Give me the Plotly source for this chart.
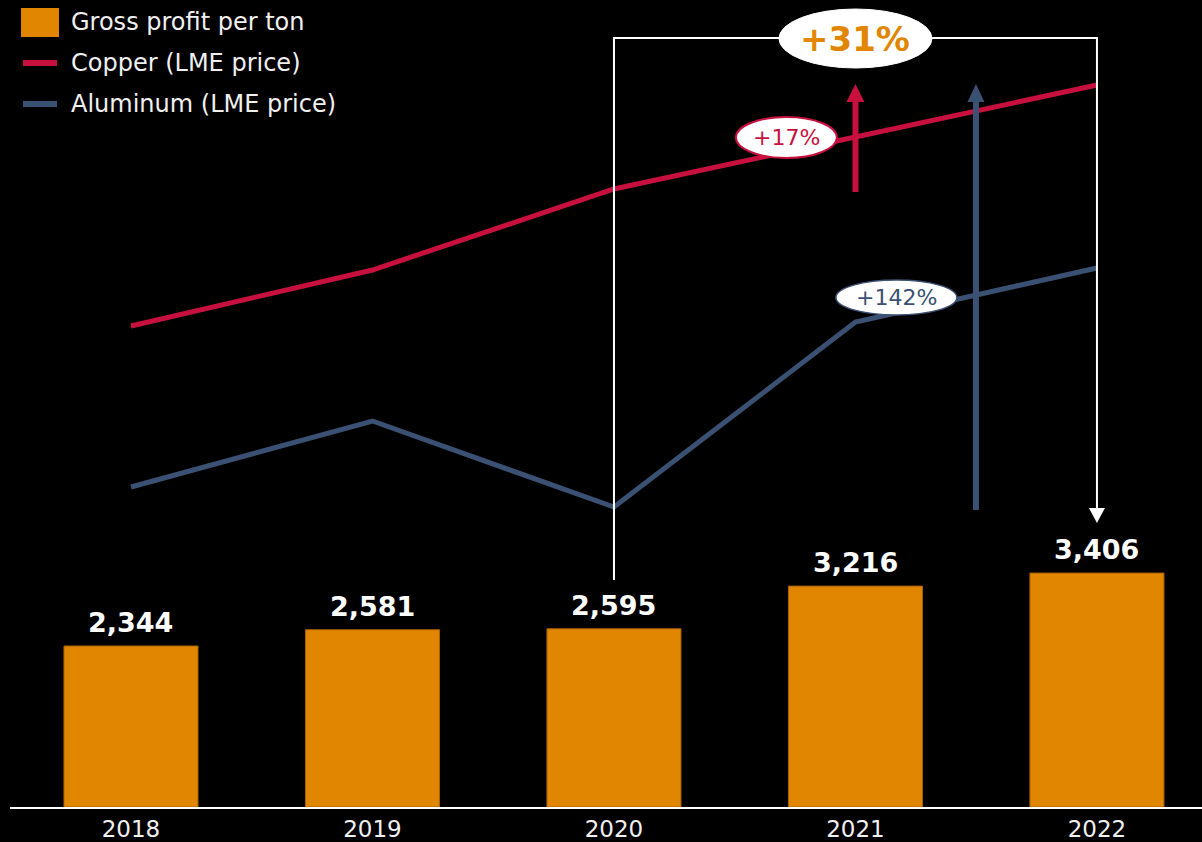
import plotly.graph_objects as go

# ---------------- data ----------------
years = ["2018", "2019", "2020", "2021", "2022"]
gross_profit = [2344, 2581, 2595, 3216, 3406]
# LME price lines (relative index, hidden axis)
copper_idx = [481, 537, 618, 670, 722]
aluminum_idx = [320, 386, 300, 485, 539]

label_total = "+31%"
label_copper = "+17%"
label_alu = "+142%"
legend_names = ["Gross profit per ton", "Copper (LME price)", "Aluminum (LME price)"]

# ---------------- styles ----------------
ORANGE = "#E08600"
RED = "#C8103F"
NAVY = "#3B5173"
WHITE = "#FFFFFF"
TXT = "#F0F0F0"
FONT = "DejaVu Sans"

xs = list(range(len(years)))

fig = go.Figure()
fig.add_trace(go.Bar(
    x=xs, y=gross_profit, name=legend_names[0], width=0.555,
    marker=dict(color=ORANGE, line=dict(color="#A86200", width=1)),
    showlegend=False, yaxis="y",
))
fig.add_trace(go.Scatter(
    x=xs, y=copper_idx, name=legend_names[1], mode="lines",
    line=dict(color=RED, width=5), yaxis="y2", showlegend=False,
))
fig.add_trace(go.Scatter(
    x=xs, y=aluminum_idx, name=legend_names[2], mode="lines",
    line=dict(color=NAVY, width=5), yaxis="y2", showlegend=False,
))

shapes = []
annotations = []

# bar value labels
for xi, v in zip(xs, gross_profit):
    annotations.append(dict(x=xi, y=v, xref="x", yref="y", text=f"<b>{v:,}</b>",
                            showarrow=False, yanchor="bottom", yshift=6,
                            font=dict(family=FONT, size=27, color=WHITE)))

# bracket 2020 -> 2022
shapes.append(dict(type="path", xref="x", yref="y2",
                   path="M 2,227 L 2,769 L 4,769 L 4,297",
                   line=dict(color=WHITE, width=2), layer="above"))
hw = 8 / 241.5
shapes.append(dict(type="path", xref="x", yref="y2",
                   path=f"M {4-hw},299 L {4+hw},299 L 4,284 Z",
                   fillcolor=WHITE, line=dict(color=WHITE, width=0), layer="above"))
# +31% ellipse
shapes.append(dict(type="circle", xref="x", yref="y2",
                   x0=2.683, x1=3.317, y0=739, y1=798,
                   fillcolor=WHITE, line=dict(color=WHITE, width=1), layer="above"))
annotations.append(dict(x=3.0, y=768.5, xref="x", yref="y2", text=f"<b>{label_total}</b>",
                        showarrow=False, font=dict(family=FONT, size=34, color=ORANGE)))

# red arrow (copper)
shapes.append(dict(type="line", xref="x", yref="y2", x0=3.0, x1=3.0, y0=615, y1=708,
                   line=dict(color=RED, width=6), layer="above"))
hw = 9 / 241.5
shapes.append(dict(type="path", xref="x", yref="y2",
                   path=f"M {3-hw},705 L {3+hw},705 L 3,723 Z",
                   fillcolor=RED, line=dict(color=RED, width=0), layer="above"))
# blue arrow (aluminum)
xb = 3.499
shapes.append(dict(type="line", xref="x", yref="y2", x0=xb, x1=xb, y0=297, y1=708,
                   line=dict(color=NAVY, width=6), layer="above"))
hw = 8.5 / 241.5
shapes.append(dict(type="path", xref="x", yref="y2",
                   path=f"M {xb-hw},705 L {xb+hw},705 L {xb},723 Z",
                   fillcolor=NAVY, line=dict(color=NAVY, width=0), layer="above"))

# +17% ellipse
shapes.append(dict(type="circle", xref="x", yref="y2",
                   x0=2.505, x1=2.923, y0=649, y1=690,
                   fillcolor=WHITE, line=dict(color=RED, width=2), layer="above"))
annotations.append(dict(x=2.714, y=669.5, xref="x", yref="y2", text=label_copper,
                        showarrow=False, font=dict(family=FONT, size=22, color=RED)))
# +142% ellipse
shapes.append(dict(type="circle", xref="x", yref="y2",
                   x0=2.919, x1=3.420, y0=492, y1=527,
                   fillcolor=WHITE, line=dict(color=NAVY, width=1.5), layer="above"))
annotations.append(dict(x=3.170, y=509.5, xref="x", yref="y2", text=label_alu,
                        showarrow=False, font=dict(family=FONT, size=22, color=NAVY)))

# custom legend
def px_x(p):
    return (p - 10) / 1192

def px_y(p):
    return (807 - p) / 807

shapes.append(dict(type="rect", xref="paper", yref="paper",
                   x0=px_x(21), x1=px_x(59), y0=px_y(37), y1=px_y(8),
                   fillcolor=ORANGE, line=dict(width=0)))
shapes.append(dict(type="line", xref="paper", yref="paper",
                   x0=px_x(23), x1=px_x(57), y0=px_y(63), y1=px_y(63),
                   line=dict(color=RED, width=6)))
shapes.append(dict(type="line", xref="paper", yref="paper",
                   x0=px_x(23), x1=px_x(57), y0=px_y(104), y1=px_y(104),
                   line=dict(color=NAVY, width=6)))
for name, py in zip(legend_names, [22, 63, 104]):
    annotations.append(dict(x=px_x(69), y=px_y(py), xref="paper", yref="paper",
                            text=name, showarrow=False, xanchor="left", yanchor="middle",
                            font=dict(family=FONT, size=24, color=TXT)))

fig.update_layout(
    width=1202, height=842,
    margin=dict(l=10, r=0, t=0, b=35),
    paper_bgcolor="black", plot_bgcolor="black",
    font=dict(family=FONT, color=TXT),
    xaxis=dict(range=[-0.501, 4.435], tickvals=xs, ticktext=years,
               showgrid=False, zeroline=False, showline=True,
               linecolor=WHITE, linewidth=2,
               tickfont=dict(family=FONT, size=23, color=TXT), ticks=""),
    yaxis=dict(range=[0, 11750], visible=False, showgrid=False),
    yaxis2=dict(range=[0, 807], overlaying="y", visible=False, showgrid=False),
    shapes=shapes, annotations=annotations,
    showlegend=False, bargap=0.2,
)

fig.write_html("out.html")
